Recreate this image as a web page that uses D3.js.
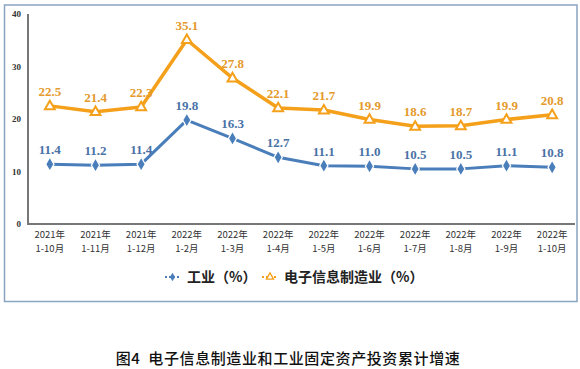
<!DOCTYPE html>
<html>
<head>
<meta charset="utf-8">
<script src="https://cdn.jsdelivr.net/npm/d3@7"></script>
<style>
  body { margin: 0; background: #fff; }
  svg { display: block; }
</style>
</head>
<body>
<script>
const W = 580;
const H = 369;

const categories = [
  ["2021年", "1-10月"], ["2021年", "1-11月"], ["2021年", "1-12月"],
  ["2022年", "1-2月"], ["2022年", "1-3月"], ["2022年", "1-4月"],
  ["2022年", "1-5月"], ["2022年", "1-6月"], ["2022年", "1-7月"],
  ["2022年", "1-8月"], ["2022年", "1-9月"], ["2022年", "1-10月"]
];
const industry = [11.4, 11.2, 11.4, 19.8, 16.3, 12.7, 11.1, 11.0, 10.5, 10.5, 11.1, 10.8];
const electronics = [22.5, 21.4, 22.3, 35.1, 27.8, 22.1, 21.7, 19.9, 18.6, 18.7, 19.9, 20.8];
const yTicks = [0, 10, 20, 30, 40];
const seriesNames = ["工业（%）", "电子信息制造业（%）"];
const title = "图4  电子信息制造业和工业固定资产投资累计增速";

const BLUE = "#4a7ebb";
const ORANGE = "#f5a01a";
const BLUE_TEXT = "#4a72a6";
const ORANGE_TEXT = "#e49a2c";

const svg = d3.select("body").append("svg").attr("width", W).attr("height", H);

// frame
svg.append("rect")
  .attr("x", 4.5).attr("y", 5).attr("width", 572.5).attr("height", 296.5)
  .attr("fill", "#fff").attr("stroke", "#8aa4c0").attr("stroke-width", 1.5);

const x = d3.scalePoint().domain(d3.range(categories.length)).range([27, 575]).padding(0.5);
const y = d3.scaleLinear().domain([0, 40]).range([224, 14]);

// axes
svg.append("line").attr("x1", 28).attr("x2", 28).attr("y1", 14).attr("y2", 224)
  .attr("stroke", "#777").attr("stroke-width", 2);
svg.append("line").attr("x1", 27).attr("x2", 575).attr("y1", 224).attr("y2", 224)
  .attr("stroke", "#777").attr("stroke-width", 2);

svg.append("g").selectAll("text").data(yTicks).join("text")
  .attr("x", 21).attr("y", (d) => y(d) + 3)
  .attr("text-anchor", "end")
  .attr("font-family", "Liberation Serif, serif")
  .attr("font-weight", "bold")
  .attr("font-size", 9)
  .attr("fill", "#333")
  .text((d) => d);

const xl = svg.append("g").selectAll("text").data(categories).join("text")
  .attr("text-anchor", "middle")
  .attr("font-family", "Noto Sans CJK SC, sans-serif")
  .attr("font-size", 9.5)
  .attr("fill", "#333");
xl.append("tspan").attr("x", (d, i) => x(i)).attr("y", 238).text((d) => d[0]);
xl.append("tspan").attr("x", (d, i) => x(i)).attr("y", 252).text((d) => d[1]);

const line = d3.line().x((d, i) => x(i)).y((d) => y(d));

// electronics series
svg.append("path").datum(electronics)
  .attr("d", line).attr("fill", "none")
  .attr("stroke", ORANGE).attr("stroke-width", 3.5).attr("stroke-linejoin", "round");

const tri = d3.symbol().type(d3.symbolTriangle).size(42);
svg.append("g").selectAll("path").data(electronics).join("path")
  .attr("d", tri)
  .attr("transform", (d, i) => `translate(${x(i)},${y(d) + 0.5})`)
  .attr("fill", "#fff").attr("stroke", ORANGE).attr("stroke-width", 2);

// industry series
svg.append("path").datum(industry)
  .attr("d", line).attr("fill", "none")
  .attr("stroke", BLUE).attr("stroke-width", 3).attr("stroke-linejoin", "round");

const dia = d3.symbol().type(d3.symbolDiamond).size(40);
svg.append("g").selectAll("path").data(industry).join("path")
  .attr("d", dia)
  .attr("transform", (d, i) => `translate(${x(i)},${y(d)})`)
  .attr("fill", BLUE).attr("stroke", "#fff").attr("stroke-width", 2.5)
  .attr("paint-order", "stroke");

// data labels
const label = (data, color) => {
  svg.append("g").selectAll("text").data(data).join("text")
    .attr("x", (d, i) => x(i)).attr("y", (d) => y(d) - 10)
    .attr("text-anchor", "middle")
    .attr("font-family", "Liberation Serif, serif")
    .attr("font-weight", "bold")
    .attr("font-size", 13)
    .attr("fill", color)
    .text((d) => d.toFixed(1));
};
label(industry, BLUE_TEXT);
label(electronics, ORANGE_TEXT);

// legend
const lg = svg.append("g").attr("font-family", "Noto Sans CJK SC, sans-serif")
  .attr("font-size", 14).attr("font-weight", "bold").attr("fill", "#222");
lg.append("line").attr("x1", 165).attr("x2", 180).attr("y1", 277).attr("y2", 277)
  .attr("stroke", BLUE).attr("stroke-width", 2).attr("stroke-dasharray", "2,2");
lg.append("path").attr("d", d3.symbol().type(d3.symbolDiamond).size(22))
  .attr("transform", "translate(172.5,277)").attr("fill", BLUE);
lg.append("text").attr("x", 187).attr("y", 282).text(seriesNames[0]);

lg.append("line").attr("x1", 262).attr("x2", 278).attr("y1", 277).attr("y2", 277)
  .attr("stroke", ORANGE).attr("stroke-width", 2).attr("stroke-dasharray", "2,2");
lg.append("path").attr("d", d3.symbol().type(d3.symbolTriangle).size(22))
  .attr("transform", "translate(270,277)").attr("fill", "#fff")
  .attr("stroke", ORANGE).attr("stroke-width", 1.3);
lg.append("text").attr("x", 284).attr("y", 282).text(seriesNames[1]);

// caption
svg.append("text")
  .attr("x", 288).attr("y", 364)
  .attr("text-anchor", "middle")
  .attr("font-family", "Noto Sans CJK SC, sans-serif")
  .attr("font-size", 15)
  .attr("font-weight", 500)
  .attr("letter-spacing", 0.6)
  .style("white-space", "pre")
  .attr("fill", "#111")
  .text(title);
</script>
</body>
</html>
